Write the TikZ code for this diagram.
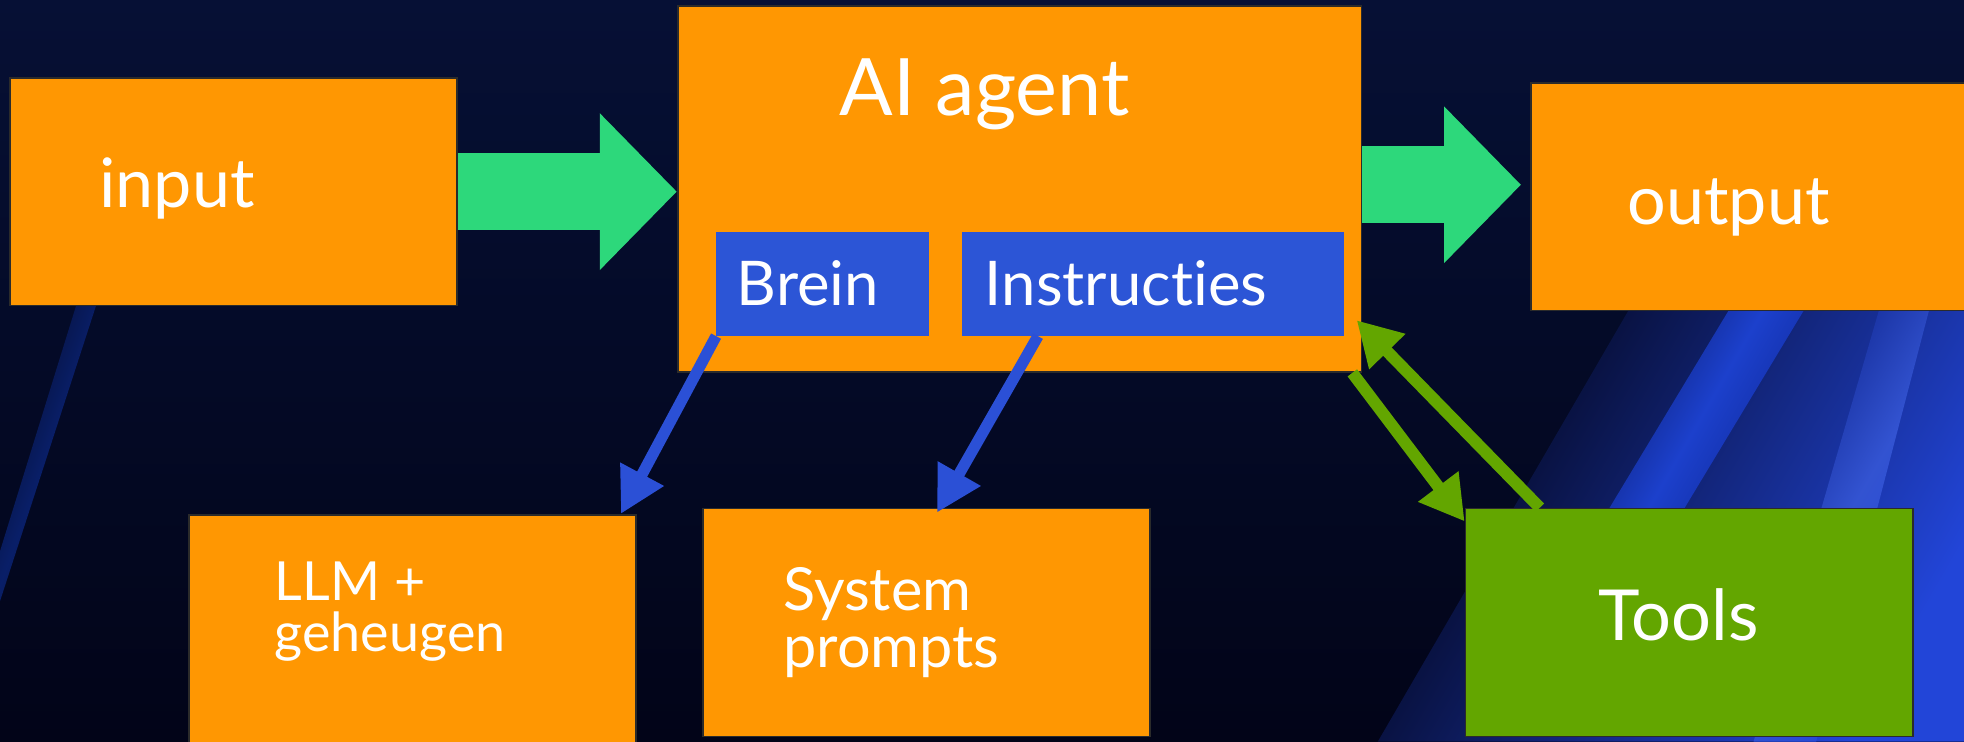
\documentclass[tikz,border=0pt]{standalone}
\usepackage{fontspec}
\setmainfont{Lato}[Ligatures=NoCommon]
\usepackage{tikz}
\usetikzlibrary{arrows.meta,calc,positioning}
\definecolor{bgdark}{HTML}{020418}
\definecolor{bgtop}{HTML}{061035}
\definecolor{bgmid}{HTML}{0A1F86}
\definecolor{bgblue}{HTML}{2245D8}
\definecolor{bandblue}{HTML}{1C40CC}
\definecolor{bgstreak}{HTML}{0C2A8C}
\definecolor{boxorange}{HTML}{FF9702}
\definecolor{boxline}{HTML}{2B2B2B}
\definecolor{subblue}{HTML}{2C55D6}
\definecolor{flowgreen}{HTML}{2DD87B}
\definecolor{toolgreen}{HTML}{63A600}
\definecolor{linkblue}{HTML}{2B50D6}
\colorlet{bgleft}{bgtop!45!bgdark}
\tikzset{%
	box/.style       = {draw=boxline, line width=0.8pt, fill=boxorange, minimum width=7.14cm, minimum height=3.64cm, inner sep=0pt},
	subbox/.style    = {fill=subblue, minimum height=1.66cm, inner sep=0pt},
	txt/.style       = {text=white, anchor=base west, inner sep=0pt},
	bigarrow/.style  = {draw=flowgreen, line width=1.23cm, -{Triangle[length=1.23cm, width=2.43cm]}},
	linkarrow/.style = {draw=linkblue, line width=0.18cm, -{Triangle[length=0.72cm, width=0.74cm]}},
	toolarrow/.style = {draw=toolgreen, line width=0.19cm, -{Triangle[length=0.7cm, width=0.76cm]}},
}

\begin{document}
\begin{tikzpicture}[x=0.02cm, y=-0.02cm]
	\useasboundingbox (0,0) rectangle (1568,592);
	\clip (0,0) rectangle (1568,592);
	
	\shade[top color=bgtop, bottom color=bgdark] (0,0) rectangle (1568,592);
	\shade[left color=bgdark, right color=bgblue, shading angle=60] (1100,592) -- (1300,248) -- (1568,248) -- (1568,592) -- cycle;
	\shade[left color=bgmid!60!bgdark, right color=bgmid, middle color=bandblue, shading angle=60] (1240,480) -- (1380,248) -- (1440,248) -- (1300,480) -- cycle;
	\shade[left color=bgmid, right color=bgblue, middle color=bandblue!90!white, shading angle=60] (1400,592) -- (1500,248) -- (1540,248) -- (1450,592) -- cycle;
	\shade[left color=bgleft, right color=bgleft, middle color=bgstreak!65!bgleft, shading angle=70] (0,440) -- (62,240) -- (78,240) -- (0,480) -- cycle;
	
	\node[box] (input) at (186.5,153) {};
	\node[box, minimum width=10.92cm, minimum height=5.84cm] (agent) at (814,151) {};
	\node[subbox, minimum width=3.4cm] (brein) at (657,226.5) {};
	\node[subbox, minimum width=6.1cm] (instr) at (920.5,226.5) {};
	\node[box] (output) at (1400.5,157) {};
	\node[box] (llm) at (329.5,502) {};
	\node[box] (system) at (739.5,497) {};
	\node[box, fill=toolgreen] (tools) at (1348.5,497) {};
	
	\node[txt, font=\fontsize{31}{36}\selectfont] (inputtxt) at (79,166) {input};
	\node[txt, font=\fontsize{36}{42}\selectfont] (agenttxt) at (670,92) {AI agent};
	\node[txt, font=\fontsize{28}{32}\selectfont] (breintxt) at (588,244) {Brein};
	\node[txt, font=\fontsize{28}{32}\selectfont] (instrtxt) at (786,244) {Instructies};
	\node[txt, font=\fontsize{31}{36}\selectfont] (outputtxt) at (1299,179.6) {output};
	\node[txt, align=left, font=\fontsize{24.5}{23}\selectfont] (llmtxt) at (219,520) {LLM +\\geheugen};
	\node[txt, align=left, font=\fontsize{27}{26.1}\selectfont] (systemtxt) at (625,533) {System\\prompts};
	\node[txt, font=\fontsize{32}{36}\selectfont] (toolstxt) at (1276,511.5) {Tools};
	
	\draw[bigarrow] (input.east) -- (input.east -| agent.west);
	\draw[bigarrow] ([yshift=0.07cm]agent.east) -- ([xshift=-0.14cm, yshift=0.07cm]agent.east -| output.west);
	
	\draw[linkarrow] (brein.south west) -- ([xshift=-0.26cm]llm.north east);
	\draw[linkarrow] ([xshift=1.22cm]instr.south west) -- ([xshift=0.17cm, yshift=-0.08cm]system.north);
	
	\draw[toolarrow] ([xshift=-0.16cm]agent.south east) -- ([yshift=-0.22cm]tools.north west);
	\draw[toolarrow] ([xshift=1.2cm]tools.north west) -- ([xshift=-0.09cm, yshift=0.84cm]agent.south east);
	
\end{tikzpicture}
\end{document}
